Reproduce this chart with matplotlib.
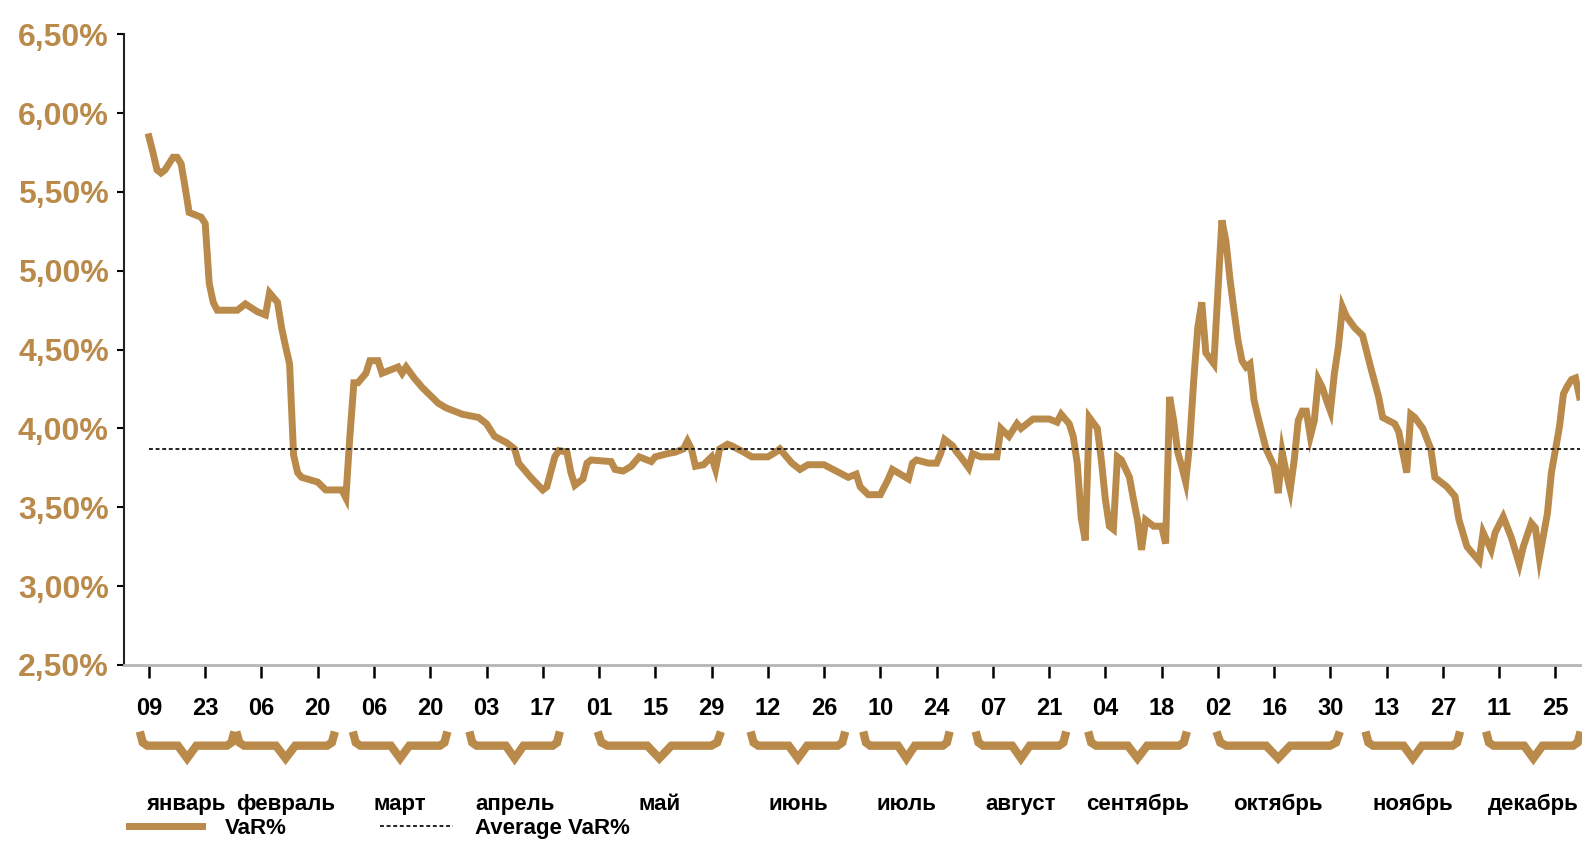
import matplotlib
matplotlib.use("Agg")
import matplotlib.pyplot as plt
import matplotlib.dates as mdates
import matplotlib.transforms as mtransforms
from matplotlib import font_manager
from matplotlib.lines import Line2D
import numpy as np
import pandas as pd

GOLD = '#B98A4A'
YEAR_START = pd.Timestamp('2017-01-01')

# day of year (2017) and VaR, %
day_of_year = [9, 10, 11, 12, 13, 15, 16, 17, 18, 19, 22, 23, 24, 25, 26, 31, 33, 36, 38, 39,
               41, 42, 43, 44, 45, 46, 47, 51, 53, 57, 58, 59, 60, 61, 63, 64, 66, 67, 69, 71,
               72, 73, 75, 77, 81, 83, 87, 91, 93, 95, 98, 100, 101, 104, 107, 108, 110, 111, 113, 114,
               115, 117, 118, 119, 124, 125, 127, 129, 131, 134, 135, 138, 140, 142, 143, 144, 145, 147, 149, 150,
               151, 153, 154, 157, 159, 163, 165, 166, 169, 171, 173, 177, 180, 183, 185, 186, 188, 191, 193, 194,
               196, 198, 199, 200, 203, 205, 206, 207, 209, 210, 211, 213, 214, 216, 220, 221, 223, 225, 226, 229,
               233, 235, 236, 238, 239, 240, 241, 242, 243, 245, 246, 247, 248, 249, 250, 251, 253, 254, 255, 256,
               257, 259, 261, 262, 263, 264, 265, 266, 267, 268, 269, 270, 271, 272, 274, 275, 276, 277, 278, 279,
               280, 281, 282, 283, 284, 285, 287, 289, 290, 291, 292, 293, 294, 295, 296, 297, 298, 299, 300, 301,
               302, 303, 304, 305, 306, 307, 309, 311, 313, 315, 316, 319, 320, 321, 322, 323, 324, 326, 328, 329,
               332, 334, 335, 337, 340, 341, 343, 344, 346, 348, 350, 351, 353, 354, 355, 357, 358, 360, 361, 362,
               363, 364, 365]
var_pct = [5.85, 5.75, 5.64, 5.62, 5.64, 5.72, 5.72, 5.68, 5.53, 5.37, 5.34, 5.30, 4.92, 4.80, 4.75, 4.75, 4.79, 4.74, 4.72, 4.86,
           4.80, 4.64, 4.52, 4.41, 3.83, 3.72, 3.69, 3.66, 3.61, 3.61, 3.56, 3.95, 4.29, 4.29, 4.35, 4.43, 4.43, 4.35, 4.37, 4.39,
           4.35, 4.39, 4.32, 4.26, 4.16, 4.13, 4.09, 4.07, 4.03, 3.95, 3.91, 3.87, 3.78, 3.69, 3.61, 3.63, 3.82, 3.86, 3.85, 3.72,
           3.64, 3.68, 3.78, 3.80, 3.79, 3.74, 3.73, 3.76, 3.82, 3.79, 3.82, 3.84, 3.85, 3.87, 3.92, 3.87, 3.76, 3.77, 3.82, 3.74,
           3.87, 3.90, 3.89, 3.85, 3.82, 3.82, 3.85, 3.87, 3.78, 3.74, 3.77, 3.77, 3.73, 3.69, 3.71, 3.63, 3.58, 3.58, 3.68, 3.74,
           3.71, 3.68, 3.78, 3.80, 3.78, 3.78, 3.84, 3.93, 3.89, 3.85, 3.82, 3.75, 3.84, 3.82, 3.82, 4.00, 3.95, 4.03, 4.00, 4.06,
           4.06, 4.04, 4.09, 4.03, 3.95, 3.78, 3.43, 3.29, 4.07, 4.00, 3.80, 3.55, 3.38, 3.36, 3.82, 3.80, 3.69, 3.55, 3.42, 3.23,
           3.42, 3.38, 3.38, 3.27, 4.20, 4.05, 3.85, 3.76, 3.66, 3.91, 4.31, 4.64, 4.80, 4.48, 4.41, 4.86, 5.32, 5.19, 4.95, 4.75,
           4.56, 4.43, 4.39, 4.41, 4.18, 4.07, 3.87, 3.76, 3.59, 3.85, 3.72, 3.61, 3.80, 4.05, 4.11, 4.11, 3.95, 4.05, 4.31, 4.26,
           4.18, 4.11, 4.35, 4.52, 4.77, 4.71, 4.64, 4.59, 4.39, 4.20, 4.07, 4.03, 3.98, 3.85, 3.72, 4.09, 4.07, 4.00, 3.87, 3.69,
           3.63, 3.57, 3.42, 3.25, 3.16, 3.34, 3.23, 3.34, 3.44, 3.31, 3.14, 3.25, 3.40, 3.37, 3.18, 3.46, 3.72, 4.01, 4.22, 4.27,
           4.31, 4.32, 4.20]
average_var = 3.87

y_ticks = [2.5, 3.0, 3.5, 4.0, 4.5, 5.0, 5.5, 6.0, 6.5]
tick_labels = ['09', '23', '06', '20', '06', '20', '03', '17', '01', '15', '29', '12', '26',
               '10', '24', '07', '21', '04', '18', '02', '16', '30', '13', '27', '11', '25']
month_names = ['январь', 'февраль', 'март', 'апрель', 'май', 'июнь',
               'июль', 'август', 'сентябрь', 'октябрь', 'ноябрь', 'декабрь']
month_spans = [('2017-01-07', '2017-01-30'), ('2017-01-31', '2017-02-24'), ('2017-03-01', '2017-03-24'),
               ('2017-03-30', '2017-04-21'), ('2017-05-01', '2017-05-31'), ('2017-06-08', '2017-07-01'),
               ('2017-07-06', '2017-07-27'), ('2017-08-03', '2017-08-25'), ('2017-08-31', '2017-09-24'),
               ('2017-10-02', '2017-11-01'), ('2017-11-08', '2017-12-01'), ('2017-12-08', '2017-12-31')]

names = {f.name for f in font_manager.fontManager.ttflist}
narrow = 'Liberation Sans Narrow' if 'Liberation Sans Narrow' in names else 'Liberation Sans'
plt.rcParams['font.family'] = [narrow, 'DejaVu Sans']

dates = YEAR_START + pd.to_timedelta(np.array(day_of_year) - 1, unit='D')
tick_dates = pd.date_range('2017-01-09', periods=len(tick_labels), freq='14D')

fig = plt.figure(figsize=(15.82, 8.43), dpi=100)
ax = fig.add_axes([0.0784, 0.2112, 0.9203, 0.7481])

ax.plot(dates, var_pct, color=GOLD, lw=5, solid_joinstyle='miter', label='VaR%')
ax.plot([dates[0], dates[-1]], [average_var, average_var], color='#222222', lw=1.4,
        linestyle=(0, (2, 1.4)), label='Average VaR%')

ax.set_ylim(2.5, 6.5)
ax.set_xlim(YEAR_START + pd.Timedelta(days=1.8), YEAR_START + pd.Timedelta(days=364.1))
ax.set_yticks(y_ticks)
ax.set_yticklabels([f'{t:.2f}%'.replace('.', ',') for t in y_ticks],
                   color=GOLD, fontsize=23, fontweight='bold', family='Liberation Sans')
ax.set_xticks(tick_dates)
ax.set_xticklabels(tick_labels, fontsize=17, fontweight='bold')

ax.tick_params(axis='y', direction='out', length=5, width=1.5, pad=6)
ax.tick_params(axis='x', direction='out', length=9, width=1.8, pad=14)
for side in ('top', 'right'):
    ax.spines[side].set_visible(False)
ax.spines['left'].set_linewidth(1.5)
ax.spines['left'].set_color('#222222')
ax.spines['bottom'].set_linewidth(2)
ax.spines['bottom'].set_color('#b5b5b5')

# month braces under the date labels
trans = mtransforms.blended_transform_factory(ax.transData, ax.transAxes)
top, mid, bottom = -0.112, -0.128, -0.148
for name, (d0, d1) in zip(month_names, month_spans):
    x0 = mdates.date2num(pd.Timestamp(d0))
    x1 = mdates.date2num(pd.Timestamp(d1))
    xc = (x0 + x1) / 2
    w = x1 - x0
    ax.plot([x0, x0 + 0.02 * w, x0 + 0.07 * w, xc - 0.1 * w, xc, xc + 0.1 * w,
             x1 - 0.07 * w, x1 - 0.02 * w, x1],
            [top, mid + 0.005, mid, mid, bottom, mid, mid, mid + 0.005, top],
            color=GOLD, lw=6, transform=trans, clip_on=False, solid_joinstyle='miter')
    ax.text(xc, -0.221, name, transform=trans, ha='center', va='center',
            fontsize=16, fontweight='bold')

handles = [Line2D([], [], color=GOLD, lw=5),
           Line2D([], [], color='#222222', lw=1.4, linestyle=(0, (2, 1.4)))]
fig.legend(handles, ['VaR%', 'Average VaR%'], loc='center left', bbox_to_anchor=(0.0815, 0.017),
           ncol=2, frameon=False, handlelength=3.3, columnspacing=4.2, handletextpad=1.0,
           borderpad=0, borderaxespad=0, prop={'size': 16, 'weight': 'bold'})

fig.savefig('out.png', dpi=100)
